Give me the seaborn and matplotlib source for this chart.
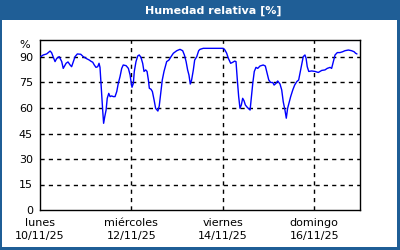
import matplotlib
matplotlib.use("Agg")
import matplotlib.pyplot as plt
from matplotlib.patches import Rectangle
import pandas as pd
import seaborn as sns

# hours since lunes 10/11/25 00:00
hours = [0.4, 1.7, 3.5, 5.3, 6.1, 7.0, 7.9, 8.8, 10.1, 11.4, 12.2, 13.7, 14.7, 15.8, 16.6,
         17.5, 18.4, 19.6, 21.4, 22.7, 24.5, 25.9, 26.6, 27.7, 28.5, 29.4, 30.3, 31.0, 31.5,
         31.9, 32.4, 32.9, 33.4, 34.0, 34.7, 35.3, 36.1, 36.8, 37.6, 38.5, 39.4, 40.3, 41.1,
         42.0, 42.9, 43.7, 45.2, 46.4, 47.3, 47.8, 48.3, 49.0, 49.5, 50.4, 51.3, 52.1, 53.0,
         53.9, 54.6, 55.5, 56.2, 56.9, 57.4, 58.3, 59.0, 59.9, 60.7, 61.9, 62.6, 63.4, 64.2,
         65.1, 66.5, 67.7, 68.8, 70.0, 71.8, 73.5, 74.9, 75.8, 76.7, 77.5, 78.2, 78.9, 79.6,
         80.5, 81.2, 82.3, 83.3, 84.0, 85.7, 96.2, 97.1, 98.0, 98.9, 100.1, 101.2, 102.2,
         102.9, 103.6, 104.3, 105.0, 105.7, 106.4, 107.1, 107.8, 108.8, 110.3, 111.0, 111.7,
         112.5, 113.4, 114.3, 115.5, 117.2, 118.3, 119.0, 120.1, 121.1, 122.2, 122.9, 123.9,
         124.8, 126.0, 126.9, 127.7, 128.6, 129.3, 130.0, 130.9, 131.6, 132.7, 133.7, 134.8,
         135.8, 136.5, 137.4, 138.2, 139.1, 139.7, 140.3, 141.1, 142.6, 144.4, 146.1, 147.9,
         149.6, 150.8, 152.3, 153.1, 154.0, 154.9, 156.1, 157.5, 158.9, 160.1, 161.9, 163.6,
         164.9, 165.7, 166.4]
humidity = [90.2, 91.2, 91.8, 93.5, 92.5, 89.8, 87.3, 89.2, 90.2, 87.3, 83.3, 86.3, 87.1, 85.3,
            84.3, 87.3, 90.2, 91.8, 91.6, 90.2, 89.0, 88.2, 87.6, 86.9, 85.3, 83.9, 84.3, 86.3,
            83.9, 76.5, 66.7, 58.8, 51.0, 54.9, 58.8, 65.7, 68.6, 66.7, 67.1, 66.7, 66.7, 69.7,
            74.5, 78.4, 83.3, 85.3, 84.9, 83.3, 79.4, 75.5, 72.2, 74.5, 81.5, 87.3, 90.6, 91.2,
            89.8, 86.3, 81.5, 82.4, 81.5, 76.5, 71.6, 71.0, 69.7, 64.7, 59.8, 58.2, 61.2, 68.6,
            76.5, 81.5, 87.3, 88.2, 90.2, 92.2, 93.7, 94.5, 93.7, 91.2, 87.3, 82.4, 79.4, 74.1,
            76.5, 82.4, 88.2, 90.2, 93.7, 94.5, 95.1, 95.1, 94.1, 92.2, 89.2, 86.3, 86.9, 87.6,
            87.3, 76.5, 66.7, 59.8, 61.8, 65.7, 64.3, 61.8, 60.4, 58.8, 66.7, 74.5, 81.5, 83.9,
            83.3, 84.7, 85.3, 84.7, 81.5, 76.5, 75.0, 75.0, 73.5, 74.5, 75.9, 74.1, 70.6, 63.7,
            58.8, 54.0, 59.8, 63.7, 66.7, 70.6, 73.5, 75.5, 76.5, 80.4, 85.3, 90.2, 91.2, 89.2,
            84.3, 81.5, 81.8, 81.5, 80.9, 82.1, 82.4, 83.3, 83.9, 83.3, 87.3, 91.2, 92.6, 92.6,
            93.1, 93.7, 94.1, 93.7, 93.1, 92.2, 91.8]

day_names = ["lunes", "miércoles", "viernes", "domingo"]
day_dates = ["10/11/25", "12/11/25", "14/11/25", "16/11/25"]
major_hours = [0, 48, 96, 144]
minor_hours = [24, 72, 120]
y_ticks = [0, 15, 30, 45, 60, 75, 90]

df = pd.DataFrame({"h": hours, "rh": humidity})

sns.set_style("white")
plt.rcParams["font.family"] = ["DejaVu Sans"]

W, H = 400, 250
fig = plt.figure(figsize=(4, 2.5), dpi=100)
blue = "#1f5e96"
fig.patch.set_facecolor(blue)
fig.patches.append(Rectangle((2 / W, 3 / H), 395 / W, (230 - 3) / H,
                             transform=fig.transFigure, facecolor="white",
                             edgecolor="none", zorder=-10))
fig.text(213 / W, 1 - 10.5 / H, "Humedad relativa [%]", color="white",
         fontsize=8, fontweight="bold", ha="center", va="center")

ax = fig.add_axes([40 / W, 40 / H, 320 / W, 170 / H])
ax.set_facecolor("white")
sns.lineplot(data=df, x="h", y="rh", ax=ax, color="#0000ff", linewidth=1.0, zorder=3)

ax.set_xlim(0, 168)
ax.set_ylim(0, 100)
ax.set_xlabel("")
ax.set_ylabel("")
ax.set_yticks(y_ticks)
ax.set_yticklabels([str(v) for v in y_ticks], fontsize=8)
ax.set_xticks(major_hours)
ax.set_xticklabels([f"{n}\n{d}" for n, d in zip(day_names, day_dates)], fontsize=8,
                   linespacing=1.3)
ax.set_xticks(minor_hours, minor=True)
ax.tick_params(axis="y", length=0, pad=5, colors="black")
ax.tick_params(axis="x", which="major", length=0, pad=6, colors="black")
ax.tick_params(axis="x", which="minor", direction="in", length=3, width=1, color="black")

for y in y_ticks[1:]:
    ax.axhline(y, color="black", linestyle=(0, (3, 3)), linewidth=1, zorder=1)
for x in major_hours[1:]:
    ax.axvline(x, color="black", linestyle=(0, (3, 3)), linewidth=1, zorder=1)

for s in ax.spines.values():
    s.set_visible(True)
    s.set_color("black")
    s.set_linewidth(1)

ax.text(-5, 97, "%", fontsize=8, ha="right", va="center", color="black",
        clip_on=False)

fig.savefig("out.png", dpi=100, facecolor=fig.get_facecolor())
